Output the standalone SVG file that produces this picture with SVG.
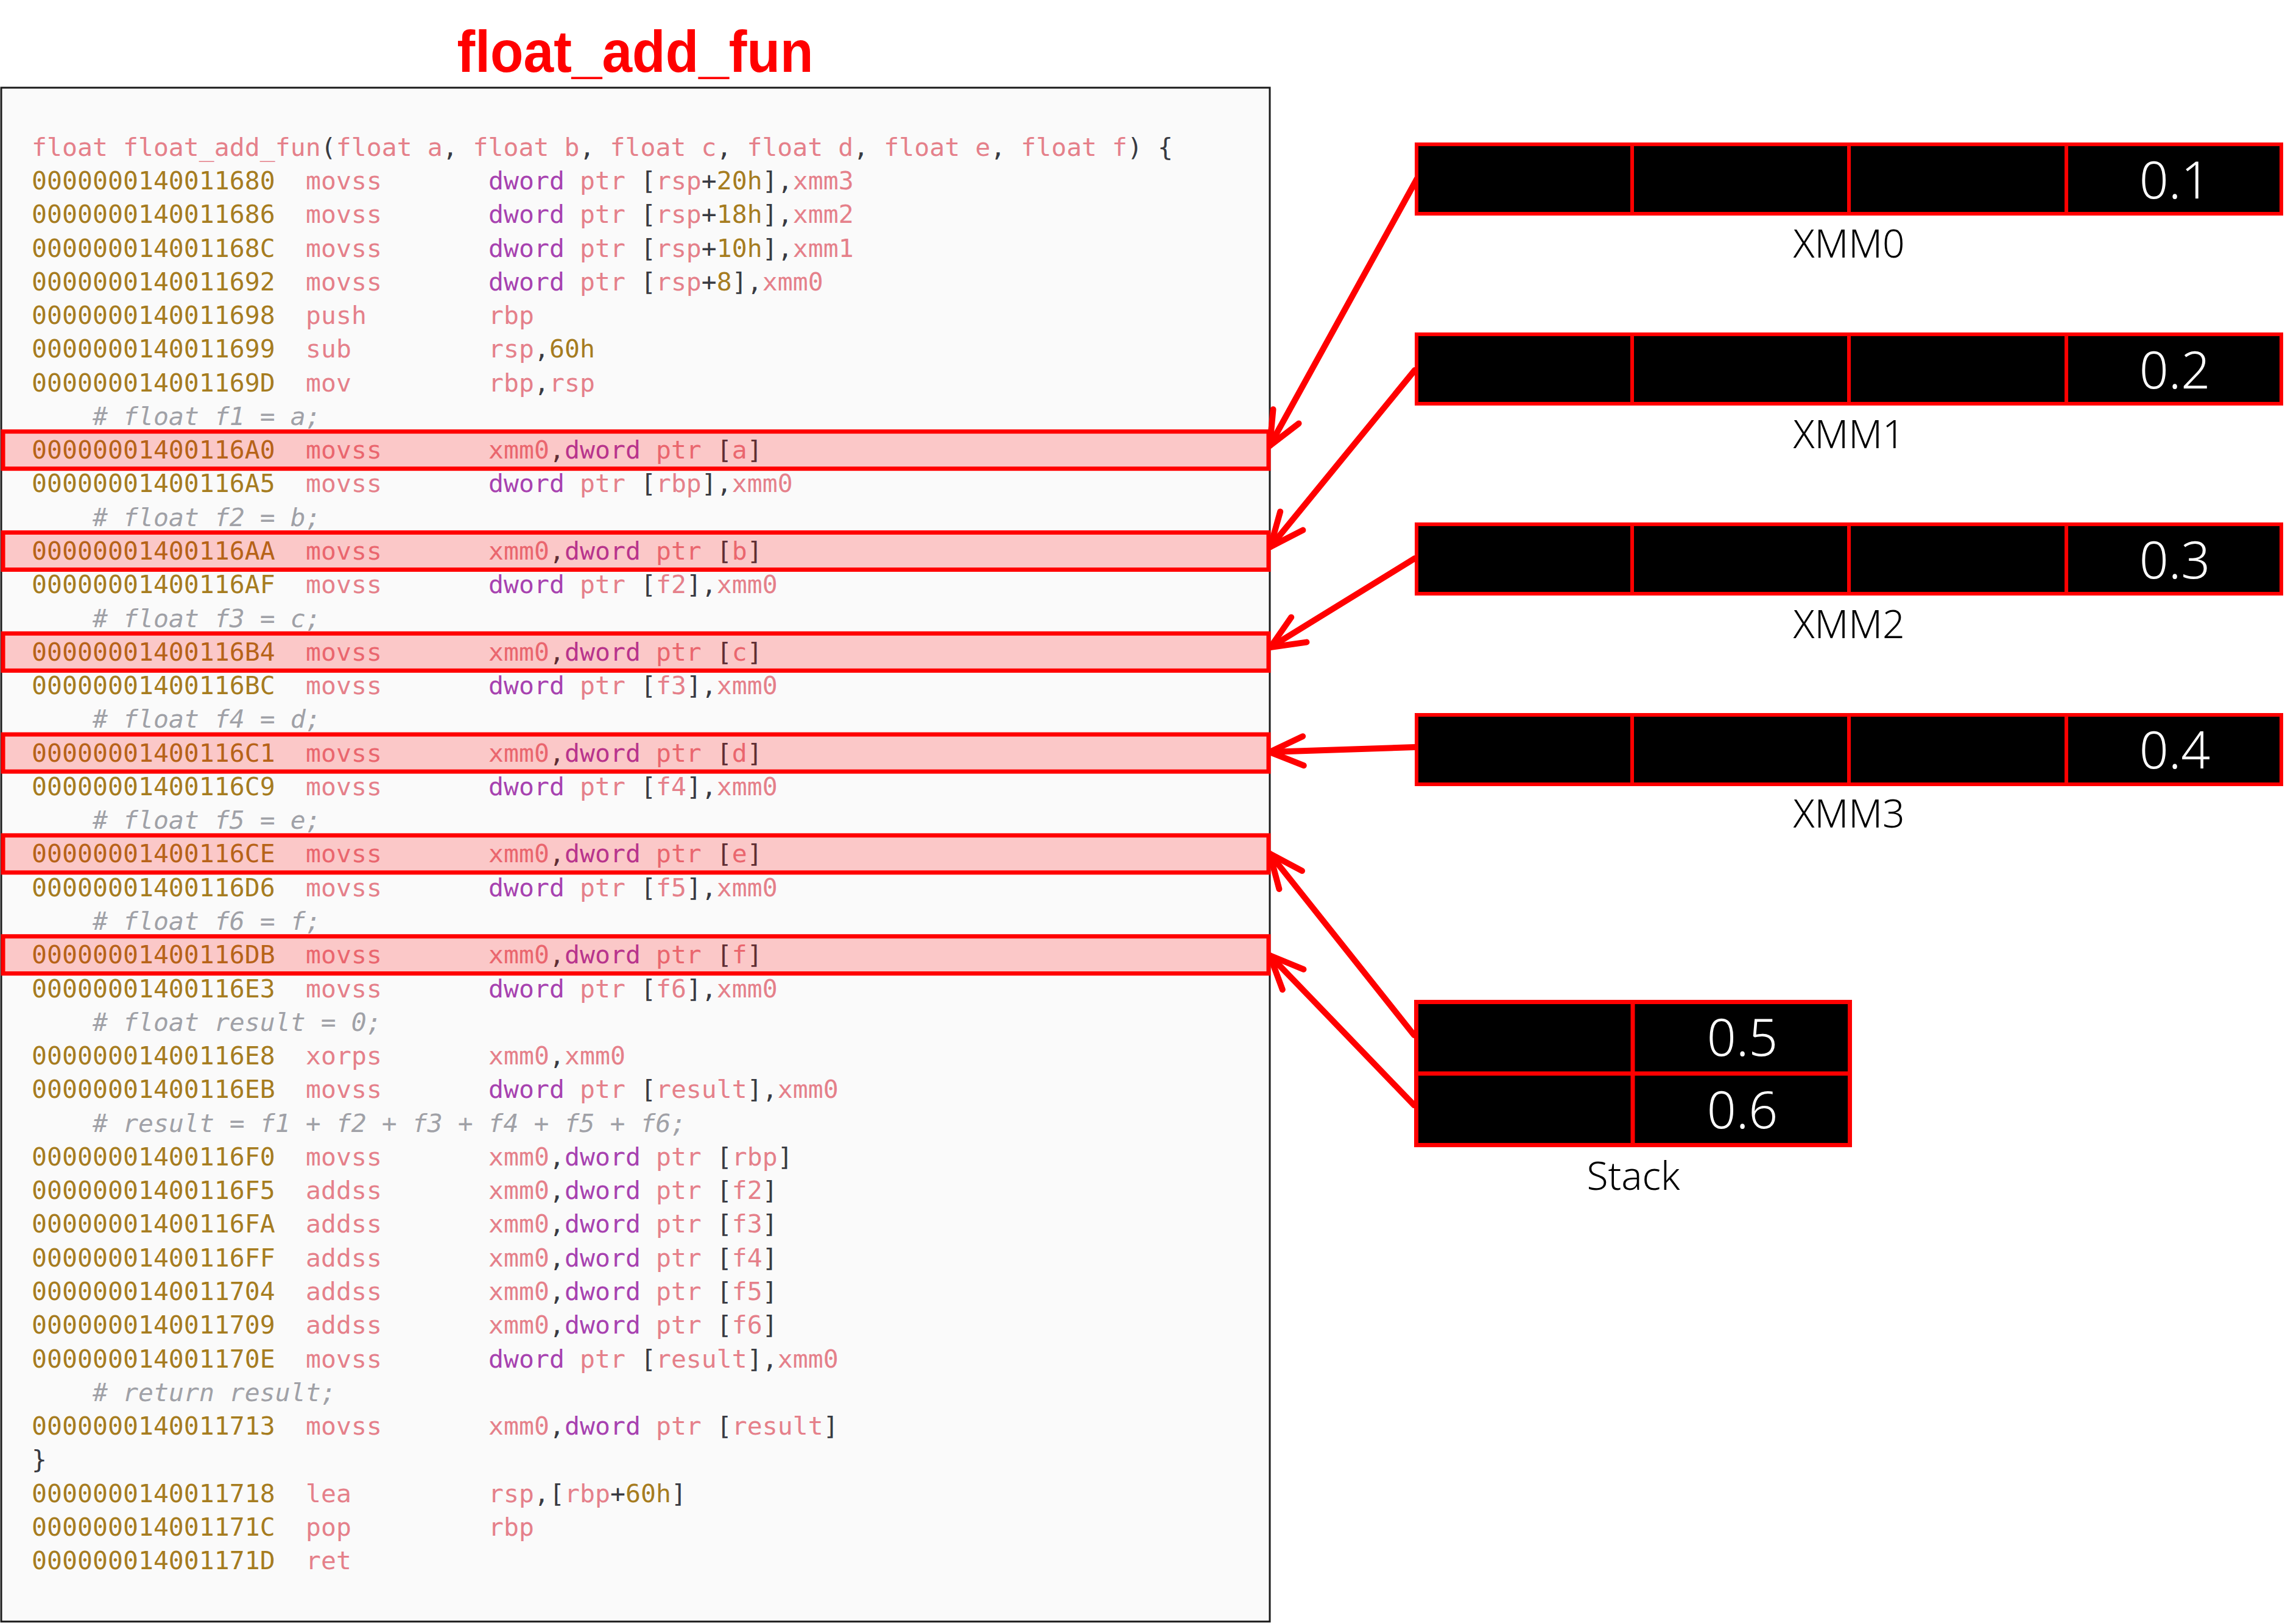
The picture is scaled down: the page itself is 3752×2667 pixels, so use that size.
<svg xmlns="http://www.w3.org/2000/svg" width="3752" height="2667" viewBox="0 0 3752 2667">
<style>
.t{font-family:"DejaVu Sans Mono",monospace;font-size:41.5px;fill:#383a42}
.ad{fill:#a67c1f}
.mn{fill:#e5808a}
.kw{fill:#a742b0}
.cm{fill:#a0a1a7;font-style:italic}
.hl{fill:#ff0000;fill-opacity:0.2;stroke:#ff0000;stroke-width:7}
.reg{fill:#000000;stroke:#ff0000;stroke-width:6}
.div{stroke:#ff0000;stroke-width:6}
.val{font-family:"Noto Sans","Open Sans",sans-serif;font-weight:300;font-size:84px;fill:#ffffff;text-anchor:middle}
.lbl{font-family:"Noto Sans","Open Sans",sans-serif;font-weight:300;font-size:64px;fill:#000000;text-anchor:middle}
.arr{stroke:#ff0000;stroke-width:10;fill:none;stroke-linecap:round;marker-end:url(#head)}
</style>
<defs>
<marker id="head" markerUnits="userSpaceOnUse" viewBox="-70 -40 80 80" markerWidth="80" markerHeight="80" refX="0" refY="0" orient="auto">
<path d="M -55 -24 L 0 0 L -55 24" fill="none" stroke="#ff0000" stroke-width="10" stroke-linecap="round" stroke-linejoin="round"/>
</marker>
</defs>
<rect x="0" y="0" width="3752" height="2667" fill="#ffffff"/>
<g id="title">
<text x="1043" y="118" text-anchor="middle" font-family="Liberation Sans, Arial, sans-serif" font-weight="bold" font-size="96" fill="#ff0000" textLength="585" lengthAdjust="spacingAndGlyphs">float_add_fun</text>
</g>
<g id="code">
<rect x="2" y="144" width="2083" height="2519" fill="#fafafa" stroke="#1a1a1a" stroke-width="3"/>
<g class="t" xml:space="preserve">
<text x="52" y="255.7"><tspan class="mn">float float_add_fun</tspan>(<tspan class="mn">float a</tspan>, <tspan class="mn">float b</tspan>, <tspan class="mn">float c</tspan>, <tspan class="mn">float d</tspan>, <tspan class="mn">float e</tspan>, <tspan class="mn">float f</tspan>) {</text>
<text x="52" y="311" class="ad">0000000140011680</text><text x="502" y="311" class="mn">movss</text><text x="802" y="311"><tspan class="kw">dword</tspan> <tspan class="mn">ptr</tspan> [<tspan class="mn">rsp</tspan>+<tspan class="ad">20h</tspan>],<tspan class="mn">xmm3</tspan></text>
<text x="52" y="366.3" class="ad">0000000140011686</text><text x="502" y="366.3" class="mn">movss</text><text x="802" y="366.3"><tspan class="kw">dword</tspan> <tspan class="mn">ptr</tspan> [<tspan class="mn">rsp</tspan>+<tspan class="ad">18h</tspan>],<tspan class="mn">xmm2</tspan></text>
<text x="52" y="421.5" class="ad">000000014001168C</text><text x="502" y="421.5" class="mn">movss</text><text x="802" y="421.5"><tspan class="kw">dword</tspan> <tspan class="mn">ptr</tspan> [<tspan class="mn">rsp</tspan>+<tspan class="ad">10h</tspan>],<tspan class="mn">xmm1</tspan></text>
<text x="52" y="476.8" class="ad">0000000140011692</text><text x="502" y="476.8" class="mn">movss</text><text x="802" y="476.8"><tspan class="kw">dword</tspan> <tspan class="mn">ptr</tspan> [<tspan class="mn">rsp</tspan>+<tspan class="ad">8</tspan>],<tspan class="mn">xmm0</tspan></text>
<text x="52" y="532.1" class="ad">0000000140011698</text><text x="502" y="532.1" class="mn">push</text><text x="802" y="532.1" class="mn">rbp</text>
<text x="52" y="587.4" class="ad">0000000140011699</text><text x="502" y="587.4" class="mn">sub</text><text x="802" y="587.4"><tspan class="mn">rsp</tspan>,<tspan class="ad">60h</tspan></text>
<text x="52" y="642.6" class="ad">000000014001169D</text><text x="502" y="642.6" class="mn">mov</text><text x="802" y="642.6"><tspan class="mn">rbp</tspan>,<tspan class="mn">rsp</tspan></text>
<text x="152" y="697.9" class="cm"># float f1 = a;</text>
<text x="52" y="753.2" class="ad">00000001400116A0</text><text x="502" y="753.2" class="mn">movss</text><text x="802" y="753.2"><tspan class="mn">xmm0</tspan>,<tspan class="kw">dword</tspan> <tspan class="mn">ptr</tspan> [<tspan class="mn">a</tspan>]</text>
<text x="52" y="808.4" class="ad">00000001400116A5</text><text x="502" y="808.4" class="mn">movss</text><text x="802" y="808.4"><tspan class="kw">dword</tspan> <tspan class="mn">ptr</tspan> [<tspan class="mn">rbp</tspan>],<tspan class="mn">xmm0</tspan></text>
<text x="152" y="863.7" class="cm"># float f2 = b;</text>
<text x="52" y="919" class="ad">00000001400116AA</text><text x="502" y="919" class="mn">movss</text><text x="802" y="919"><tspan class="mn">xmm0</tspan>,<tspan class="kw">dword</tspan> <tspan class="mn">ptr</tspan> [<tspan class="mn">b</tspan>]</text>
<text x="52" y="974.3" class="ad">00000001400116AF</text><text x="502" y="974.3" class="mn">movss</text><text x="802" y="974.3"><tspan class="kw">dword</tspan> <tspan class="mn">ptr</tspan> [<tspan class="mn">f2</tspan>],<tspan class="mn">xmm0</tspan></text>
<text x="152" y="1029.5" class="cm"># float f3 = c;</text>
<text x="52" y="1084.8" class="ad">00000001400116B4</text><text x="502" y="1084.8" class="mn">movss</text><text x="802" y="1084.8"><tspan class="mn">xmm0</tspan>,<tspan class="kw">dword</tspan> <tspan class="mn">ptr</tspan> [<tspan class="mn">c</tspan>]</text>
<text x="52" y="1140.1" class="ad">00000001400116BC</text><text x="502" y="1140.1" class="mn">movss</text><text x="802" y="1140.1"><tspan class="kw">dword</tspan> <tspan class="mn">ptr</tspan> [<tspan class="mn">f3</tspan>],<tspan class="mn">xmm0</tspan></text>
<text x="152" y="1195.3" class="cm"># float f4 = d;</text>
<text x="52" y="1250.6" class="ad">00000001400116C1</text><text x="502" y="1250.6" class="mn">movss</text><text x="802" y="1250.6"><tspan class="mn">xmm0</tspan>,<tspan class="kw">dword</tspan> <tspan class="mn">ptr</tspan> [<tspan class="mn">d</tspan>]</text>
<text x="52" y="1305.9" class="ad">00000001400116C9</text><text x="502" y="1305.9" class="mn">movss</text><text x="802" y="1305.9"><tspan class="kw">dword</tspan> <tspan class="mn">ptr</tspan> [<tspan class="mn">f4</tspan>],<tspan class="mn">xmm0</tspan></text>
<text x="152" y="1361.2" class="cm"># float f5 = e;</text>
<text x="52" y="1416.4" class="ad">00000001400116CE</text><text x="502" y="1416.4" class="mn">movss</text><text x="802" y="1416.4"><tspan class="mn">xmm0</tspan>,<tspan class="kw">dword</tspan> <tspan class="mn">ptr</tspan> [<tspan class="mn">e</tspan>]</text>
<text x="52" y="1471.7" class="ad">00000001400116D6</text><text x="502" y="1471.7" class="mn">movss</text><text x="802" y="1471.7"><tspan class="kw">dword</tspan> <tspan class="mn">ptr</tspan> [<tspan class="mn">f5</tspan>],<tspan class="mn">xmm0</tspan></text>
<text x="152" y="1527" class="cm"># float f6 = f;</text>
<text x="52" y="1582.2" class="ad">00000001400116DB</text><text x="502" y="1582.2" class="mn">movss</text><text x="802" y="1582.2"><tspan class="mn">xmm0</tspan>,<tspan class="kw">dword</tspan> <tspan class="mn">ptr</tspan> [<tspan class="mn">f</tspan>]</text>
<text x="52" y="1637.5" class="ad">00000001400116E3</text><text x="502" y="1637.5" class="mn">movss</text><text x="802" y="1637.5"><tspan class="kw">dword</tspan> <tspan class="mn">ptr</tspan> [<tspan class="mn">f6</tspan>],<tspan class="mn">xmm0</tspan></text>
<text x="152" y="1692.8" class="cm"># float result = 0;</text>
<text x="52" y="1748.1" class="ad">00000001400116E8</text><text x="502" y="1748.1" class="mn">xorps</text><text x="802" y="1748.1"><tspan class="mn">xmm0</tspan>,<tspan class="mn">xmm0</tspan></text>
<text x="52" y="1803.3" class="ad">00000001400116EB</text><text x="502" y="1803.3" class="mn">movss</text><text x="802" y="1803.3"><tspan class="kw">dword</tspan> <tspan class="mn">ptr</tspan> [<tspan class="mn">result</tspan>],<tspan class="mn">xmm0</tspan></text>
<text x="152" y="1858.6" class="cm"># result = f1 + f2 + f3 + f4 + f5 + f6;</text>
<text x="52" y="1913.9" class="ad">00000001400116F0</text><text x="502" y="1913.9" class="mn">movss</text><text x="802" y="1913.9"><tspan class="mn">xmm0</tspan>,<tspan class="kw">dword</tspan> <tspan class="mn">ptr</tspan> [<tspan class="mn">rbp</tspan>]</text>
<text x="52" y="1969.1" class="ad">00000001400116F5</text><text x="502" y="1969.1" class="mn">addss</text><text x="802" y="1969.1"><tspan class="mn">xmm0</tspan>,<tspan class="kw">dword</tspan> <tspan class="mn">ptr</tspan> [<tspan class="mn">f2</tspan>]</text>
<text x="52" y="2024.4" class="ad">00000001400116FA</text><text x="502" y="2024.4" class="mn">addss</text><text x="802" y="2024.4"><tspan class="mn">xmm0</tspan>,<tspan class="kw">dword</tspan> <tspan class="mn">ptr</tspan> [<tspan class="mn">f3</tspan>]</text>
<text x="52" y="2079.7" class="ad">00000001400116FF</text><text x="502" y="2079.7" class="mn">addss</text><text x="802" y="2079.7"><tspan class="mn">xmm0</tspan>,<tspan class="kw">dword</tspan> <tspan class="mn">ptr</tspan> [<tspan class="mn">f4</tspan>]</text>
<text x="52" y="2135" class="ad">0000000140011704</text><text x="502" y="2135" class="mn">addss</text><text x="802" y="2135"><tspan class="mn">xmm0</tspan>,<tspan class="kw">dword</tspan> <tspan class="mn">ptr</tspan> [<tspan class="mn">f5</tspan>]</text>
<text x="52" y="2190.2" class="ad">0000000140011709</text><text x="502" y="2190.2" class="mn">addss</text><text x="802" y="2190.2"><tspan class="mn">xmm0</tspan>,<tspan class="kw">dword</tspan> <tspan class="mn">ptr</tspan> [<tspan class="mn">f6</tspan>]</text>
<text x="52" y="2245.5" class="ad">000000014001170E</text><text x="502" y="2245.5" class="mn">movss</text><text x="802" y="2245.5"><tspan class="kw">dword</tspan> <tspan class="mn">ptr</tspan> [<tspan class="mn">result</tspan>],<tspan class="mn">xmm0</tspan></text>
<text x="152" y="2300.8" class="cm"># return result;</text>
<text x="52" y="2356" class="ad">0000000140011713</text><text x="502" y="2356" class="mn">movss</text><text x="802" y="2356"><tspan class="mn">xmm0</tspan>,<tspan class="kw">dword</tspan> <tspan class="mn">ptr</tspan> [<tspan class="mn">result</tspan>]</text>
<text x="52" y="2411.3">}</text>
<text x="52" y="2466.6" class="ad">0000000140011718</text><text x="502" y="2466.6" class="mn">lea</text><text x="802" y="2466.6"><tspan class="mn">rsp</tspan>,[<tspan class="mn">rbp</tspan>+<tspan class="ad">60h</tspan>]</text>
<text x="52" y="2521.9" class="ad">000000014001171C</text><text x="502" y="2521.9" class="mn">pop</text><text x="802" y="2521.9" class="mn">rbp</text>
<text x="52" y="2577.1" class="ad">000000014001171D</text><text x="502" y="2577.1" class="mn">ret</text>
</g>
<g id="highlights">
<rect class="hl" x="5" y="708.7" width="2078" height="61"/>
<rect class="hl" x="5" y="874.5" width="2078" height="61"/>
<rect class="hl" x="5" y="1040.3" width="2078" height="61"/>
<rect class="hl" x="5" y="1206.1" width="2078" height="61"/>
<rect class="hl" x="5" y="1371.9" width="2078" height="61"/>
<rect class="hl" x="5" y="1537.7" width="2078" height="61"/>
</g>
</g>
<g id="connectors">
<line class="arr" x1="2327" y1="293" x2="2085" y2="732"/>
<line class="arr" x1="2323" y1="608" x2="2086" y2="898"/>
<line class="arr" x1="2323" y1="917" x2="2086" y2="1063"/>
<line class="arr" x1="2323" y1="1227" x2="2085" y2="1235"/>
<line class="arr" x1="2322" y1="1700" x2="2085" y2="1402"/>
<line class="arr" x1="2322" y1="1815" x2="2085" y2="1569"/>
</g>
<g id="xmm0">
<rect class="reg" x="2326" y="237" width="1420" height="114"/>
<line class="div" x1="2680" y1="237" x2="2680" y2="351"/>
<line class="div" x1="3036" y1="237" x2="3036" y2="351"/>
<line class="div" x1="3393" y1="237" x2="3393" y2="351"/>
<text class="val" x="3571" y="326">0.1</text>
<text class="lbl" x="3036" y="423">XMM0</text>
</g>
<g id="xmm1">
<rect class="reg" x="2326" y="549" width="1420" height="114"/>
<line class="div" x1="2680" y1="549" x2="2680" y2="663"/>
<line class="div" x1="3036" y1="549" x2="3036" y2="663"/>
<line class="div" x1="3393" y1="549" x2="3393" y2="663"/>
<text class="val" x="3571" y="638">0.2</text>
<text class="lbl" x="3036" y="735.6">XMM1</text>
</g>
<g id="xmm2">
<rect class="reg" x="2326" y="861" width="1420" height="114"/>
<line class="div" x1="2680" y1="861" x2="2680" y2="975"/>
<line class="div" x1="3036" y1="861" x2="3036" y2="975"/>
<line class="div" x1="3393" y1="861" x2="3393" y2="975"/>
<text class="val" x="3571" y="950">0.3</text>
<text class="lbl" x="3036" y="1047.8">XMM2</text>
</g>
<g id="xmm3">
<rect class="reg" x="2326" y="1174" width="1420" height="114"/>
<line class="div" x1="2680" y1="1174" x2="2680" y2="1288"/>
<line class="div" x1="3036" y1="1174" x2="3036" y2="1288"/>
<line class="div" x1="3393" y1="1174" x2="3393" y2="1288"/>
<text class="val" x="3571" y="1262">0.4</text>
<text class="lbl" x="3036" y="1359">XMM3</text>
</g>
<g id="stack">
<rect x="2325.5" y="1645.5" width="712" height="235" fill="#000000" stroke="#ff0000" stroke-width="7"/>
<line x1="2325.5" y1="1763" x2="3037.5" y2="1763" stroke="#ff0000" stroke-width="7"/>
<line x1="2681" y1="1645.5" x2="2681" y2="1880.5" stroke="#ff0000" stroke-width="7"/>
<text class="val" x="2861" y="1734">0.5</text>
<text class="val" x="2861" y="1853">0.6</text>
<text class="lbl" x="2682" y="1954">Stack</text>
</g>
</svg>
